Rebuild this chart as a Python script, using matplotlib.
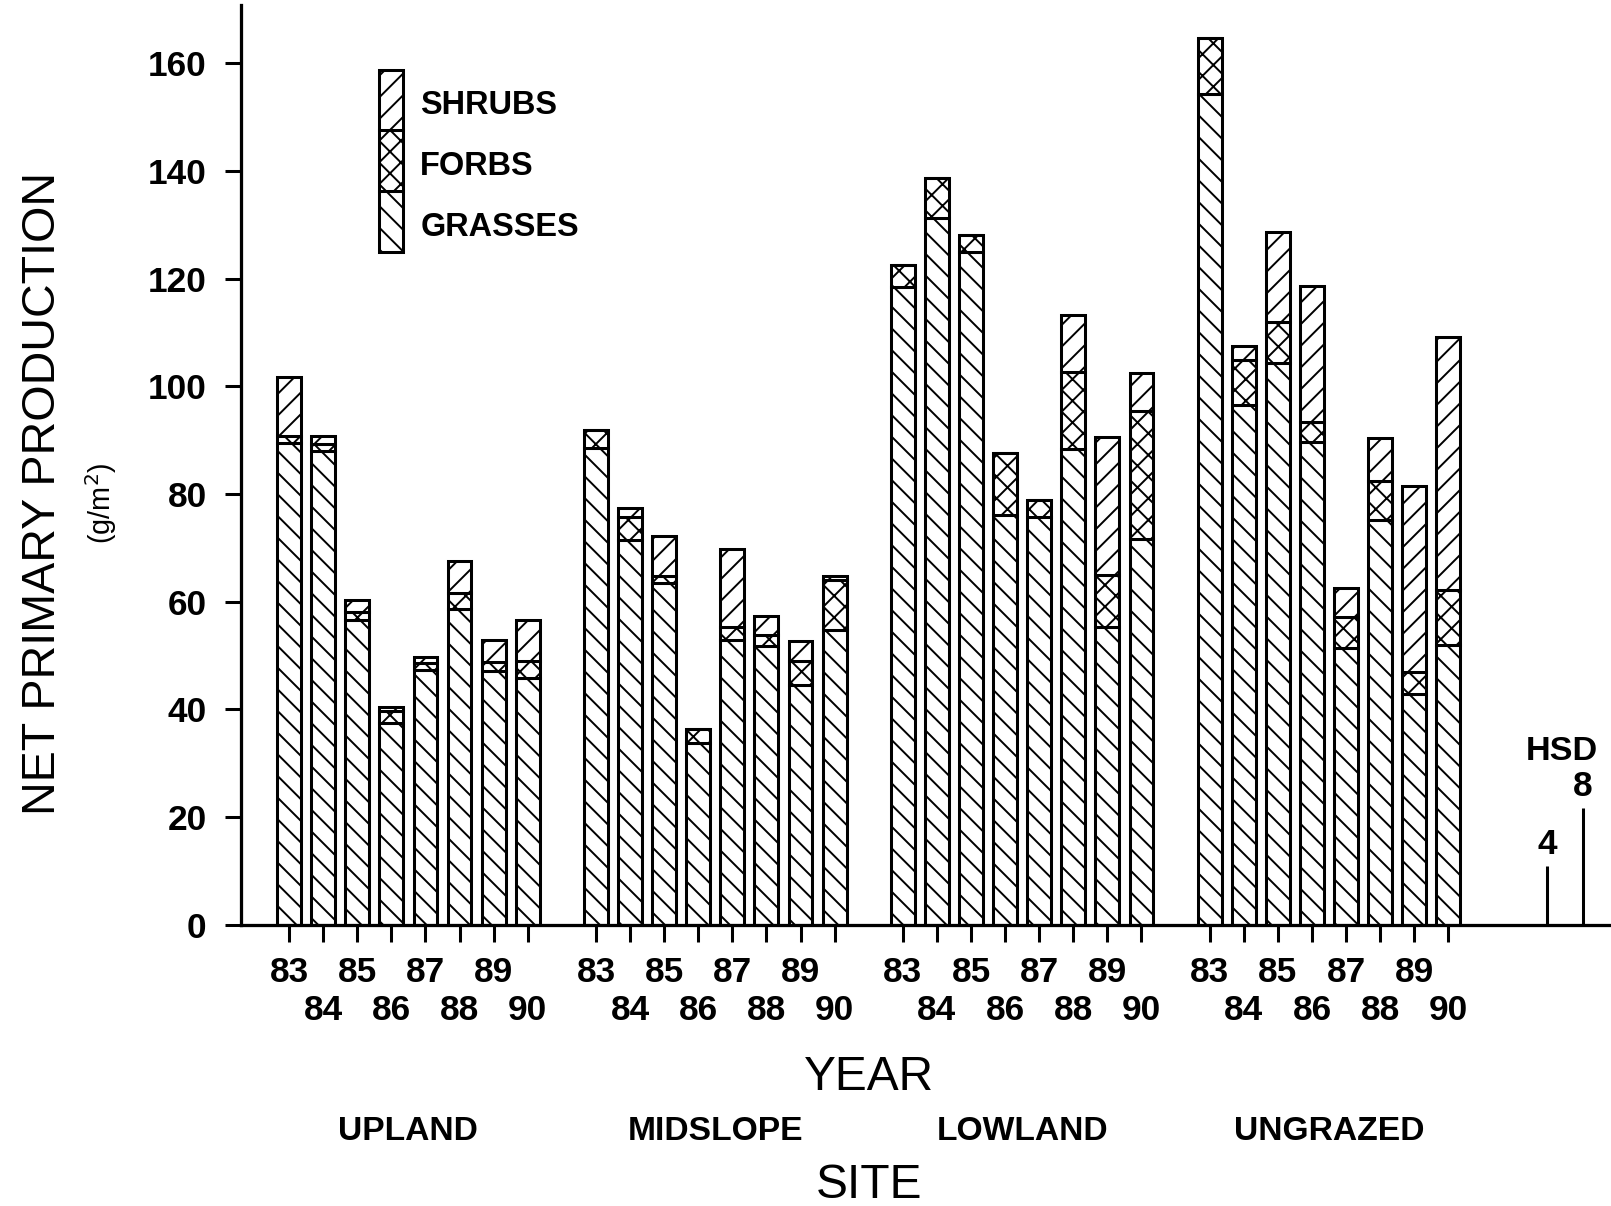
import numpy as np
import matplotlib
matplotlib.use("Agg")
import matplotlib.pyplot as plt
from matplotlib import transforms

years = ["83", "84", "85", "86", "87", "88", "89", "90"]
sites = ["UPLAND", "MIDSLOPE", "LOWLAND", "UNGRAZED"]

# net primary production (g/m2) by life form, 1983-1990
upland_grasses   = [89.4, 88.0, 56.6, 37.4, 47.2, 58.6, 47.1, 45.8]
upland_forbs     = [1.4, 1.2, 1.5, 2.3, 1.3, 3.0, 1.7, 3.2]
upland_shrubs    = [10.9, 1.5, 2.2, 0.7, 1.2, 5.9, 4.1, 7.5]

midslope_grasses = [88.5, 71.4, 63.4, 33.8, 52.9, 51.7, 44.5, 54.8]
midslope_forbs   = [3.4, 4.3, 1.3, 2.6, 2.3, 2.1, 4.5, 9.2]
midslope_shrubs  = [0.0, 1.7, 7.5, 0.0, 14.5, 3.5, 3.6, 0.8]

lowland_grasses  = [118.5, 131.3, 124.9, 76.1, 75.7, 88.3, 55.3, 71.7]
lowland_forbs    = [4.0, 7.3, 3.2, 11.4, 3.2, 14.3, 9.6, 23.7]
lowland_shrubs   = [0.0, 0.0, 0.0, 0.0, 0.0, 10.7, 25.6, 7.0]

ungrazed_grasses = [154.2, 96.5, 104.3, 89.6, 51.3, 75.2, 42.8, 51.9]
ungrazed_forbs   = [10.4, 8.3, 7.7, 3.7, 5.9, 7.2, 4.1, 10.2]
ungrazed_shrubs  = [0.0, 2.7, 16.6, 25.3, 5.4, 8.0, 34.5, 47.0]

hsd = [4, 8]

grass_sets = [upland_grasses, midslope_grasses, lowland_grasses, ungrazed_grasses]
forb_sets  = [upland_forbs, midslope_forbs, lowland_forbs, ungrazed_forbs]
shrub_sets = [upland_shrubs, midslope_shrubs, lowland_shrubs, ungrazed_shrubs]

plt.rcParams['font.family'] = 'Liberation Sans'
plt.rcParams['hatch.linewidth'] = 1.08

W, H, DPI = 1611, 1206, 130
fig = plt.figure(figsize=(W/DPI, H/DPI), dpi=DPI)
ax = fig.add_axes([241/W, 1 - 924.6/H, 1 - 241/W, (924.6 - 5)/H])

step  = 9      # 8 years + one empty slot between sites
width = 0.7
edge  = dict(color='white', edgecolor='black', linewidth=1.68)

xs_all = []
for g in range(len(sites)):
    x  = g*step + np.arange(len(years))
    gr = np.array(grass_sets[g])
    fo = np.array(forb_sets[g])
    sh = np.array(shrub_sets[g])
    ax.bar(x, gr, width, hatch='\\\\', **edge)
    ax.bar(x, fo, width, bottom=gr, hatch='xx', **edge)
    ax.bar(x, sh, width, bottom=gr + fo, hatch='//', **edge)
    xs_all.extend(x)

# legend key: one stacked column with the three patterns
key_h = 11.3
key_y = 124.9
for i, (lab, hat) in enumerate([("GRASSES", '\\\\'), ("FORBS", 'xx'), ("SHRUBS", '//')]):
    ax.bar(3.0, key_h, 0.7, bottom=key_y + i*key_h, hatch=hat, **edge)
    ax.text(3.85, key_y + (i + 0.5)*key_h - 1.0, lab, fontsize=18, fontweight='bold',
            va='center', ha='left')

# HSD bars at right
hsd_x = [36.9, 37.95]
hsd_scale = 2.7
hsd_top = np.array(hsd)*hsd_scale
ax.vlines(hsd_x, 0, hsd_top, color='black', linewidth=1.68)
for xx, top, v in zip(hsd_x, hsd_top, hsd):
    ax.text(xx, top + 4.0, str(v), fontsize=19.5, fontweight='bold', ha='center', va='center')
ax.text(np.mean(hsd_x) - 0.1, 32.2, "HSD", fontsize=19, fontweight='bold',
        ha='center', va='center')

ax.set_xlim(-1.41, 38.77)
ax.set_ylim(0, 170.8)

# odd years on the upper row, even years on the lower row
upper = xs_all[0::2]
lower = xs_all[1::2]
ax.set_xticks(upper)
ax.set_xticklabels(years[0::2]*len(sites), fontsize=19.5, fontweight='bold')
ax.set_xticks(lower, minor=True)
ax.set_xticklabels(years[1::2]*len(sites), minor=True, fontsize=19.5, fontweight='bold')
ax.tick_params(axis='x', which='both', length=9.6, width=1.68)
ax.tick_params(axis='x', which='major', pad=8)
ax.tick_params(axis='x', which='minor', pad=29)

ax.set_yticks(range(0, 161, 20))
ax.set_yticklabels([str(v) for v in range(0, 161, 20)], fontsize=19.5, fontweight='bold')
ax.tick_params(axis='y', length=9, width=1.68, pad=10)

for s in ['top', 'right']:
    ax.spines[s].set_visible(False)
for s in ['left', 'bottom']:
    ax.spines[s].set_linewidth(1.8)

# axis titles
fig.text(43/W, 1 - 493/H, "NET PRIMARY PRODUCTION", rotation=90, fontsize=25.8,
         ha='center', va='center')
fig.text(101/W, 1 - 503/H, "(g/m$^2$)", rotation=90, fontsize=16,
         ha='center', va='center')

mid = (xs_all[0] + xs_all[-1])/2
trans = transforms.blended_transform_factory(ax.transData, fig.transFigure)
ax.text(mid, 1 - 1077/H, "YEAR", transform=trans, fontsize=26.5,
        ha='center', va='center')
ax.text(mid, 1 - 1185/H, "SITE", transform=trans, fontsize=26.5,
        ha='center', va='center')
for g, name in enumerate(sites):
    ax.text(g*step + (len(years) - 1)/2, 1 - 1131/H, name, transform=trans,
            fontsize=18.6, fontweight='bold', ha='center', va='center')

fig.savefig("out.png", dpi=DPI)
